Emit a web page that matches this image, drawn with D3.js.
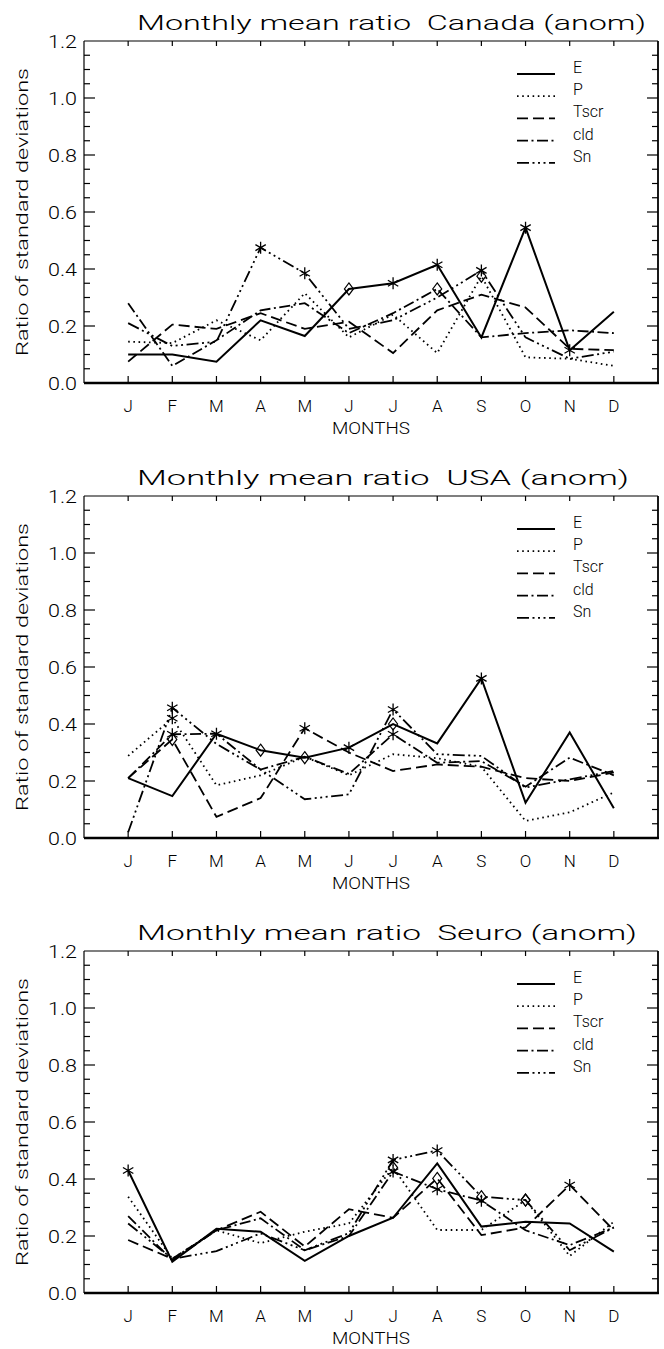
<!DOCTYPE html>
<html>
<head>
<meta charset="utf-8">
<script src="https://cdn.jsdelivr.net/npm/d3@7"></script>
<style>
  html, body { margin: 0; padding: 0; background: #fff; }
  svg { display: block; }
  text { font-family: Roboto, "DejaVu Sans", sans-serif; font-weight: 300; fill: #000; }
</style>
</head>
<body>
<script>
// ---------------- DATA ----------------
const months = ["J","F","M","A","M","J","J","A","S","O","N","D"];
const yTickValues = [0, 0.2, 0.4, 0.6, 0.8, 1.0, 1.2];
const yTickLabels = ["0.0","0.2","0.4","0.6","0.8","1.0","1.2"];
const seriesNames = ["E","P","Tscr","cld","Sn"];
const regionNames = ["Canada","USA","Seuro"];

const canadaE    = [0.10, 0.10, 0.075, 0.22, 0.165, 0.33, 0.35, 0.415, 0.16, 0.545, 0.115, 0.25];
const canadaP    = [0.145, 0.14, 0.22, 0.15, 0.315, 0.16, 0.24, 0.105, 0.375, 0.09, 0.085, 0.06];
const canadaTscr = [0.075, 0.205, 0.19, 0.245, 0.19, 0.215, 0.105, 0.255, 0.31, 0.265, 0.12, 0.115];
const canadaCld  = [0.28, 0.06, 0.15, 0.255, 0.28, 0.175, 0.245, 0.33, 0.16, 0.175, 0.185, 0.175];
const canadaSn   = [0.21, 0.13, 0.145, 0.475, 0.385, 0.19, 0.22, 0.30, 0.395, 0.16, 0.085, 0.11];

const usaE    = [0.21, 0.147, 0.366, 0.308, 0.282, 0.317, 0.40, 0.332, 0.56, 0.124, 0.37, 0.104];
const usaP    = [0.288, 0.42, 0.185, 0.22, 0.285, 0.22, 0.294, 0.28, 0.25, 0.06, 0.09, 0.16];
const usaTscr = [0.21, 0.346, 0.074, 0.14, 0.385, 0.30, 0.235, 0.258, 0.25, 0.21, 0.20, 0.23];
const usaCld  = [0.21, 0.364, 0.366, 0.24, 0.285, 0.225, 0.364, 0.264, 0.27, 0.18, 0.282, 0.22];
const usaSn   = [0.02, 0.457, 0.33, 0.24, 0.136, 0.153, 0.451, 0.294, 0.288, 0.177, 0.206, 0.235];

const seuroE    = [0.43, 0.11, 0.225, 0.215, 0.113, 0.20, 0.264, 0.455, 0.233, 0.25, 0.244, 0.145];
const seuroP    = [0.338, 0.12, 0.22, 0.175, 0.215, 0.244, 0.44, 0.221, 0.221, 0.326, 0.13, 0.25];
const seuroTscr = [0.186, 0.12, 0.22, 0.285, 0.163, 0.294, 0.264, 0.402, 0.203, 0.23, 0.379, 0.22];
const seuroCld  = [0.27, 0.115, 0.22, 0.262, 0.15, 0.20, 0.426, 0.364, 0.324, 0.22, 0.168, 0.23];
const seuroSn   = [0.244, 0.12, 0.147, 0.209, 0.15, 0.21, 0.467, 0.50, 0.338, 0.326, 0.15, 0.23];

// marked points: [seriesIndex, monthIndex]
const canadaAsterisks = [[0,6],[0,7],[0,9],[0,10],[4,3],[4,4],[4,8]];
const canadaDiamonds  = [[0,5],[3,7],[1,8]];
const usaAsterisks = [[0,2],[0,5],[0,8],[2,4],[4,1],[4,6],[3,1],[3,6],[1,1]];
const usaDiamonds  = [[0,3],[0,4],[0,6],[2,1]];
const seuroAsterisks = [[0,0],[4,6],[4,7],[3,7],[3,8],[2,10],[3,6]];
const seuroDiamonds  = [[2,7],[4,8],[4,9],[1,9],[1,6]];

// ---------------- DRAW ----------------
const W = 664, H = 1349;
const svg = d3.select("body").append("svg").attr("width", W).attr("height", H);
svg.append("rect").attr("width", W).attr("height", H).attr("fill", "#fff");

const panels = [
  {name: regionNames[0], series: [canadaE, canadaP, canadaTscr, canadaCld, canadaSn], ast: canadaAsterisks, dia: canadaDiamonds, titleLen: 509},
  {name: regionNames[1], series: [usaE, usaP, usaTscr, usaCld, usaSn], ast: usaAsterisks, dia: usaDiamonds, titleLen: 492},
  {name: regionNames[2], series: [seuroE, seuroP, seuroTscr, seuroCld, seuroSn], ast: seuroAsterisks, dia: seuroDiamonds, titleLen: 500}
];

const dashes = [null, "1.6,3.6", "11,5", "11,3.5,2,3.5", "12,3.5,2,3.5,2,3.5,2,3.5"];
const left = 84, right = 658, plotH = 342;
const x = d3.scaleLinear().domain([-1, 12]).range([left, right]);

function asteriskPath(r) {
  const s = r * Math.sin(Math.PI / 3), c = r * Math.cos(Math.PI / 3);
  return `M0,${-r}L0,${r}M${-s},${-c}L${s},${c}M${-s},${c}L${s},${-c}`;
}
function diamondPath(rx, ry) {
  return `M0,${-ry}L${rx},0L0,${ry}L${-rx},0Z`;
}

panels.forEach((p, i) => {
  const bottom = 383 + i * 455;
  const top = bottom - plotH;
  const y = d3.scaleLinear().domain([0, 1.2]).range([bottom, top]);
  const g = svg.append("g");

  // title
  g.append("text")
    .attr("x", 137).attr("y", top - 11)
    .attr("font-size", 21)
    .attr("textLength", p.titleLen).attr("lengthAdjust", "spacingAndGlyphs")
    .style("white-space", "pre")
    .text("Monthly mean ratio  " + p.name + " (anom)");

  // frame
  g.append("line").attr("x1", left).attr("x2", right).attr("y1", top).attr("y2", top).attr("stroke", "#000").attr("stroke-width", 1.2);
  g.append("line").attr("x1", left).attr("x2", left).attr("y1", top).attr("y2", bottom).attr("stroke", "#000").attr("stroke-width", 1.2);
  g.append("line").attr("x1", right).attr("x2", right).attr("y1", top).attr("y2", bottom + 1).attr("stroke", "#000").attr("stroke-width", 1.8);
  g.append("line").attr("x1", left).attr("x2", right + 0.9).attr("y1", bottom).attr("y2", bottom).attr("stroke", "#000").attr("stroke-width", 2.7);

  // y ticks (minor every 0.05, major every 0.2) on both sides
  const minor = d3.range(0, 25).map(k => k * 0.05);
  minor.forEach((v, k) => {
    const len = (k % 4 === 0) ? 11 : 6;
    const yy = y(v);
    if (k === 0 || k === 24) return;
    g.append("line").attr("x1", left).attr("x2", left + len).attr("y1", yy).attr("y2", yy).attr("stroke", "#000").attr("stroke-width", 1.2);
    g.append("line").attr("x1", right).attr("x2", right - len).attr("y1", yy).attr("y2", yy).attr("stroke", "#000").attr("stroke-width", 1.2);
  });
  yTickValues.forEach((v, k) => {
    g.append("text").attr("x", 77).attr("y", y(v) + 6.5)
      .attr("text-anchor", "end").attr("font-size", 18)
      .attr("textLength", 29).attr("lengthAdjust", "spacingAndGlyphs")
      .text(yTickLabels[k]);
  });

  // x ticks
  d3.range(0, 12).forEach(m => {
    const xx = x(m);
    g.append("line").attr("x1", xx).attr("x2", xx).attr("y1", bottom).attr("y2", bottom - 7).attr("stroke", "#000").attr("stroke-width", 1.2);
    g.append("line").attr("x1", xx).attr("x2", xx).attr("y1", top).attr("y2", top + 5).attr("stroke", "#000").attr("stroke-width", 1.2);
  });
  months.forEach((mName, m) => {
    g.append("text").attr("x", x(m)).attr("y", bottom + 29)
      .attr("text-anchor", "middle").attr("font-size", 17).text(mName);
  });
  g.append("text").attr("x", (left + right) / 2).attr("y", bottom + 51)
    .attr("text-anchor", "middle").attr("font-size", 17)
    .attr("textLength", 78).attr("lengthAdjust", "spacingAndGlyphs")
    .text("MONTHS");

  // y axis title
  g.append("text")
    .attr("transform", `translate(28,${(top + bottom) / 2}) rotate(-90)`)
    .attr("text-anchor", "middle").attr("font-size", 17)
    .attr("textLength", 288).attr("lengthAdjust", "spacingAndGlyphs")
    .text("Ratio of standard deviations");

  // series lines
  const line = d3.line().x((d, m) => x(m)).y(d => y(d));
  p.series.forEach((vals, s) => {
    g.append("path").attr("d", line(vals))
      .attr("fill", "none").attr("stroke", "#000")
      .attr("stroke-width", s === 0 ? 2 : 1.8)
      .attr("stroke-linejoin", "miter")
      .attr("stroke-dasharray", dashes[s]);
  });

  // symbols
  p.ast.forEach(([s, m]) => {
    g.append("path").attr("d", asteriskPath(6))
      .attr("transform", `translate(${x(m)},${y(p.series[s][m])})`)
      .attr("fill", "none").attr("stroke", "#000").attr("stroke-width", 1.3);
  });
  p.dia.forEach(([s, m]) => {
    g.append("path").attr("d", diamondPath(4.5, 6))
      .attr("transform", `translate(${x(m)},${y(p.series[s][m])})`)
      .attr("fill", "none").attr("stroke", "#000").attr("stroke-width", 1.2);
  });

  // legend
  seriesNames.forEach((nm, s) => {
    const base = top + 32 + s * 22.2;
    g.append("line").attr("x1", 517).attr("x2", 555)
      .attr("y1", base + 1).attr("y2", base + 1)
      .attr("stroke", "#000").attr("stroke-width", s === 0 ? 2.2 : 1.8)
      .attr("stroke-dasharray", dashes[s]);
    g.append("text").attr("x", 573).attr("y", base).attr("font-size", 16).text(nm);
  });
});
</script>
</body>
</html>
